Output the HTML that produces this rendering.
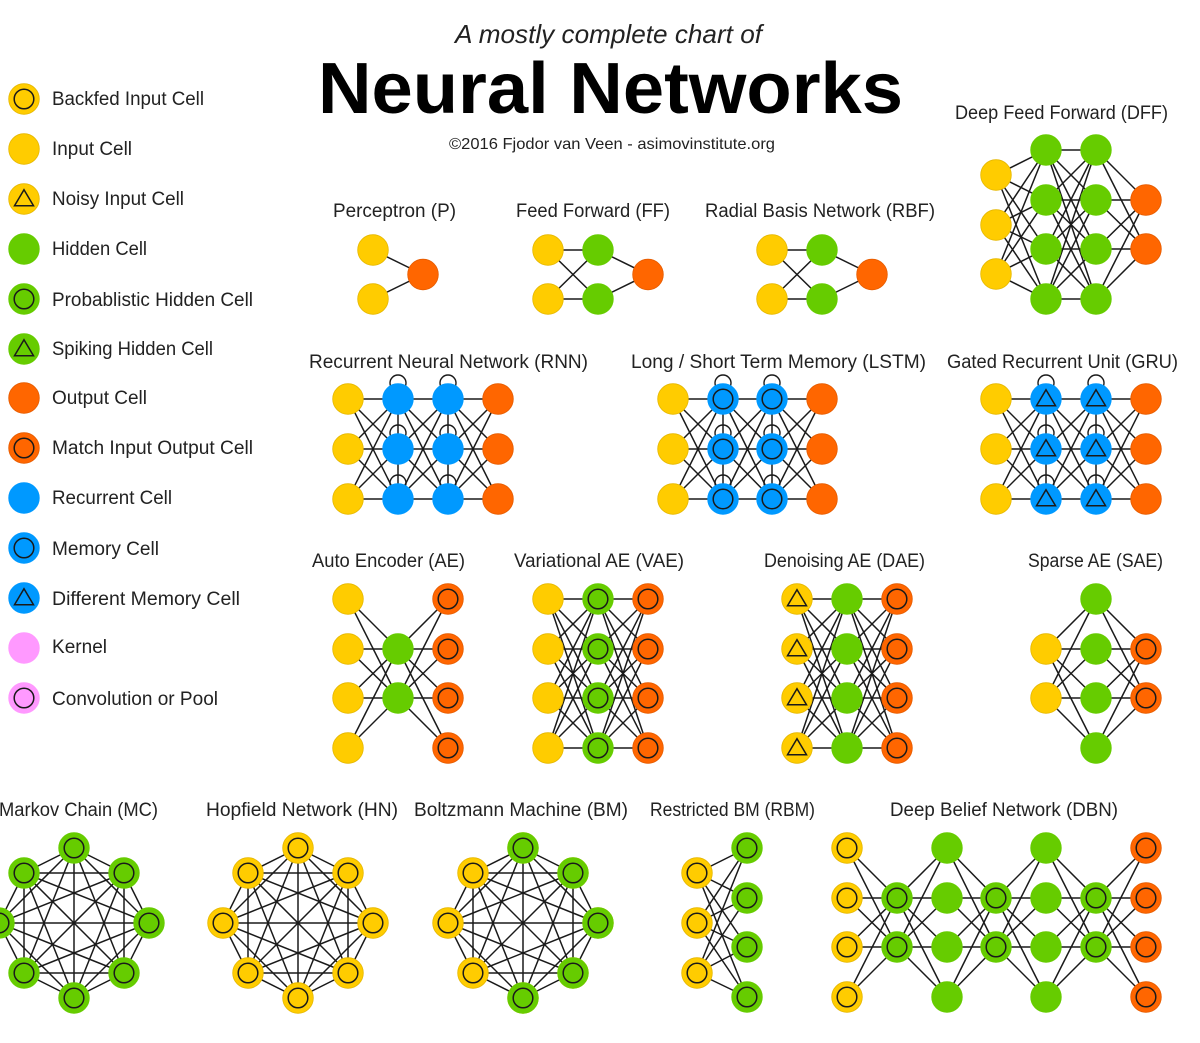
<!DOCTYPE html>
<html>
<head>
<meta charset="utf-8">
<title>Neural Networks chart</title>
<style>
html,body{margin:0;padding:0;background:#fff;width:1200px;height:1043px;overflow:hidden}
svg{display:block}
text{font-family:"Liberation Sans",sans-serif;fill:#222;font-size:19px}
</style>
</head>
<body>
<svg id="s" xmlns="http://www.w3.org/2000/svg" width="1200" height="1043" viewBox="0 0 1200 1043">
<rect width="1200" height="1043" fill="#fff"/>
<g id="diagram"></g>
<text x="455" y="43" font-size="26" style="font-size:26px;font-style:italic" textLength="307" lengthAdjust="spacingAndGlyphs">A mostly complete chart of</text>
<text x="318" y="113" style="font-size:72px;font-weight:bold;fill:#000" textLength="585" lengthAdjust="spacingAndGlyphs">Neural Networks</text>
<text x="449" y="149" style="font-size:16px" textLength="326" lengthAdjust="spacingAndGlyphs">©2016 Fjodor van Veen - asimovinstitute.org</text>

<text x="52" y="105" textLength="152" lengthAdjust="spacingAndGlyphs">Backfed Input Cell</text>
<text x="52" y="155" textLength="80" lengthAdjust="spacingAndGlyphs">Input Cell</text>
<text x="52" y="205" textLength="132" lengthAdjust="spacingAndGlyphs">Noisy Input Cell</text>
<text x="52" y="255" textLength="95" lengthAdjust="spacingAndGlyphs">Hidden Cell</text>
<text x="52" y="306" textLength="201" lengthAdjust="spacingAndGlyphs">Probablistic Hidden Cell</text>
<text x="52" y="355" textLength="161" lengthAdjust="spacingAndGlyphs">Spiking Hidden Cell</text>
<text x="52" y="404" textLength="95" lengthAdjust="spacingAndGlyphs">Output Cell</text>
<text x="52" y="454" textLength="201" lengthAdjust="spacingAndGlyphs">Match Input Output Cell</text>
<text x="52" y="504" textLength="120" lengthAdjust="spacingAndGlyphs">Recurrent Cell</text>
<text x="52" y="555" textLength="107" lengthAdjust="spacingAndGlyphs">Memory Cell</text>
<text x="52" y="605" textLength="188" lengthAdjust="spacingAndGlyphs">Different Memory Cell</text>
<text x="52" y="653" textLength="55" lengthAdjust="spacingAndGlyphs">Kernel</text>
<text x="52" y="705" textLength="166" lengthAdjust="spacingAndGlyphs">Convolution or Pool</text>

<text x="955" y="119" textLength="213" lengthAdjust="spacingAndGlyphs">Deep Feed Forward (DFF)</text>
<text x="333" y="217" textLength="123" lengthAdjust="spacingAndGlyphs">Perceptron (P)</text>
<text x="516" y="217" textLength="154" lengthAdjust="spacingAndGlyphs">Feed Forward (FF)</text>
<text x="705" y="217" textLength="230" lengthAdjust="spacingAndGlyphs">Radial Basis Network (RBF)</text>
<text x="309" y="368" textLength="279" lengthAdjust="spacingAndGlyphs">Recurrent Neural Network (RNN)</text>
<text x="631" y="368" textLength="295" lengthAdjust="spacingAndGlyphs">Long / Short Term Memory (LSTM)</text>
<text x="947" y="368" textLength="231" lengthAdjust="spacingAndGlyphs">Gated Recurrent Unit (GRU)</text>
<text x="312" y="567" textLength="153" lengthAdjust="spacingAndGlyphs">Auto Encoder (AE)</text>
<text x="514" y="567" textLength="170" lengthAdjust="spacingAndGlyphs">Variational AE (VAE)</text>
<text x="764" y="567" textLength="161" lengthAdjust="spacingAndGlyphs">Denoising AE (DAE)</text>
<text x="1028" y="567" textLength="135" lengthAdjust="spacingAndGlyphs">Sparse AE (SAE)</text>
<text x="-1" y="816" textLength="159" lengthAdjust="spacingAndGlyphs">Markov Chain (MC)</text>
<text x="206" y="816" textLength="192" lengthAdjust="spacingAndGlyphs">Hopfield Network (HN)</text>
<text x="414" y="816" textLength="214" lengthAdjust="spacingAndGlyphs">Boltzmann Machine (BM)</text>
<text x="650" y="816" textLength="165" lengthAdjust="spacingAndGlyphs">Restricted BM (RBM)</text>
<text x="890" y="816" textLength="228" lengthAdjust="spacingAndGlyphs">Deep Belief Network (DBN)</text>
</svg>
<script>
(function(){
var NS="http://www.w3.org/2000/svg",G=document.getElementById("diagram");
var lineLayer=document.createElementNS(NS,"g"),nodeLayer=document.createElementNS(NS,"g");
G.appendChild(lineLayer);G.appendChild(nodeLayer);
var C={y:["#ffcc00","#e6b800"],g:["#66cc00","#66cc00"],o:["#ff6600","#e65c00"],b:["#0099ff","#0099ff"],p:["#ff99ff","#ff99ff"]};
var INK="#1a1a1a";
function el(p,n,a){var e=document.createElementNS(NS,n);for(var k in a)e.setAttribute(k,a[k]);p.appendChild(e);return e;}
function line(a,b){el(lineLayer,"line",{x1:a[0],y1:a[1],x2:b[0],y2:b[1],stroke:INK,"stroke-width":1.5});}
function loop(x,y){el(lineLayer,"circle",{cx:x,cy:y-16,r:8,fill:"none",stroke:INK,"stroke-width":1.4});}
function node(x,y,t){
  var c=C[t[0]],m=t[1];
  el(nodeLayer,"circle",{cx:x,cy:y,r:15.3,fill:c[0],stroke:c[1],"stroke-width":0.8});
  if(m==="c")el(nodeLayer,"circle",{cx:x,cy:y,r:9.8,fill:"none",stroke:INK,"stroke-width":1.5});
  if(m==="t")el(nodeLayer,"polygon",{points:(x)+","+(y-9.3)+" "+(x+9.5)+","+(y+6.7)+" "+(x-9.5)+","+(y+6.7),fill:"none",stroke:INK,"stroke-width":1.5});
}
function net(layers,opt){
  opt=opt||{};
  for(var i=0;i<layers.length;i++){
    var L=layers[i];
    L[1].forEach(function(y){
      node(L[0],y,L[2]);
      if(L[3])loop(L[0],y);
    });
    if(L[3])for(var q=0;q<L[1].length-1;q++)line([L[0],L[1][q]],[L[0],L[1][q+1]]);
    if(i<layers.length-1){
      var N=layers[i+1];
      L[1].forEach(function(a){N[1].forEach(function(b){line([L[0],a],[N[0],b]);});});
    }
  }
}
function ring(cx,cy,t){
  var d=[[0,-75],[50,-50],[75,0],[50,50],[0,75],[-50,50],[-75,0],[-50,-50]].map(function(p){return [cx+p[0],cy+p[1]];});
  for(var i=0;i<8;i++){for(var j=i+1;j<8;j++)line(d[i],d[j]);node(d[i][0],d[i][1],t);}
}
var A=[599,649,698,748],B=[649,698],H=[150,200,249,299],R=[399,449,499],F=[848,898,947,997],E=[898,947];

[["yc"],["y"],["yt"],["g"],["gc"],["gt"],["o"],["oc"],["b"],["bc"],["bt"],["p"],["pc"]].forEach(function(t,i){
  var ys=[99,149,199,249,299,349,398,448,498,548,598,648,698];
  node(24,ys[i],t[0]);
});

net([[373,[250,299],"y"],[423,[274.5],"o"]]);
net([[548,[250,299],"y"],[598,[250,299],"g"],[648,[274.5],"o"]]);
net([[772,[250,299],"y"],[822,[250,299],"g"],[872,[274.5],"o"]]);
net([[996,[175,225,274],"y"],[1046,H,"g"],[1096,H,"g"],[1146,[200,249],"o"]]);

net([[348,R,"y"],[398,R,"b",1],[448,R,"b",1],[498,R,"o"]]);
net([[673,R,"y"],[723,R,"bc",1],[772,R,"bc",1],[822,R,"o"]]);
net([[996,R,"y"],[1046,R,"bt",1],[1096,R,"bt",1],[1146,R,"o"]]);

net([[348,A,"y"],[398,B,"g"],[448,A,"oc"]]);
net([[548,A,"y"],[598,A,"gc"],[648,A,"oc"]]);
net([[797,A,"yt"],[847,A,"g"],[897,A,"oc"]]);
net([[1046,B,"y"],[1096,A,"g"],[1146,B,"oc"]]);

ring(74,923,"gc");
ring(298,923,"yc");
ring(523,923,"yc");
// Boltzmann: right and lower nodes are probabilistic hidden
[[523,848],[573,873],[598,923],[573,973],[523,998]].forEach(function(p){node(p[0],p[1],"gc");});

net([[697,[873,923,973],"yc"],[747,F,"gc"]]);
net([[847,F,"yc"],[897,E,"gc"],[947,F,"g"],[996,E,"gc"],[1046,F,"g"],[1096,E,"gc"],[1146,F,"oc"]]);
})();
</script>
</body>
</html>
